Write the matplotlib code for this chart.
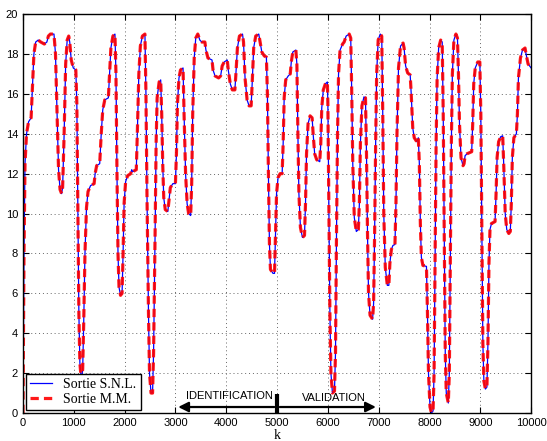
import numpy as np
import matplotlib.pyplot as plt

# points (k, sortie)
k = [0, 20, 40, 70, 110, 160, 190, 215, 250, 300, 350, 420, 470, 500, 540, 610,
     640, 670, 700, 730, 760, 780, 810, 840, 870, 900, 920, 950, 990, 1040,
     1060, 1080, 1100, 1120, 1150, 1175, 1195, 1220, 1250, 1280, 1330, 1400,
     1420, 1450, 1510, 1540, 1570, 1610, 1680, 1700, 1730, 1770, 1810,
     1830, 1850, 1870, 1890, 1920, 1950, 1970, 1990, 2020, 2060, 2120, 2140,
     2160, 2230, 2250, 2280, 2310, 2350, 2400, 2420, 2440, 2470, 2490, 2520,
     2550, 2570, 2600, 2620, 2640, 2680, 2710, 2730, 2750, 2770, 2800, 2850,
     2870, 2900, 2950, 3000, 3020, 3040, 3070, 3100, 3150, 3170, 3200, 3230,
     3260, 3300, 3320, 3340, 3370, 3400, 3440, 3480, 3520, 3580, 3600, 3640,
     3720, 3740, 3780, 3850, 3890, 3920, 3960, 4020, 4040, 4080, 4120, 4170,
     4190, 4220, 4260, 4320, 4340, 4370, 4410, 4450, 4490, 4510, 4540, 4580,
     4640, 4660, 4700, 4750, 4790, 4810, 4830, 4850, 4870, 4920, 4950, 4970,
     4990, 5020, 5060, 5100, 5120, 5140, 5170, 5220, 5260, 5280, 5310, 5370,
     5390, 5410, 5430, 5460, 5500, 5540, 5560, 5580, 5610, 5650, 5690, 5710,
     5740, 5780, 5840, 5860, 5880, 5910, 5950, 5990, 6000, 6020, 6040, 6060,
     6090, 6130, 6150, 6170, 6190, 6210, 6240, 6290, 6320, 6360, 6420, 6450,
     6470, 6490, 6520, 6560, 6600, 6620, 6640, 6670, 6710, 6740, 6760, 6780,
     6800, 6830, 6880, 6900, 6920, 6940, 6960, 6990, 7030, 7060, 7080, 7100,
     7130, 7170, 7200, 7220, 7250, 7280, 7320, 7340, 7360, 7390, 7430, 7480,
     7500, 7530, 7570, 7620, 7640, 7670, 7700, 7750, 7780, 7800, 7820, 7840,
     7870, 7940, 7960, 7980, 8010, 8040, 8070, 8090, 8110, 8130, 8150, 8180,
     8220, 8250, 8270, 8290, 8310, 8330, 8370, 8390, 8410, 8430, 8450, 8480,
     8520, 8550, 8570, 8590, 8620, 8660, 8680, 8700, 8740, 8830, 8850, 8870,
     8900, 8950, 8990, 9010, 9030, 9050, 9070, 9100, 9130, 9150, 9170, 9190,
     9220, 9290, 9310, 9330, 9360, 9400, 9440, 9460, 9490, 9520, 9560, 9590,
     9610, 9630, 9660, 9710, 9730, 9750, 9790, 9830, 9880, 9900, 9940, 10000]

y_snl = [0.0, 8.0, 12.5, 14.0, 14.6, 14.8, 16.5, 18.0, 18.6, 18.7, 18.6, 18.5, 18.6, 18.9, 19.0, 19.0,
         18.0, 15.0, 12.2, 11.2, 11.0, 11.3, 14.0, 17.5, 18.7, 18.9, 18.6, 17.7, 17.3, 17.2,
         15.5, 10.0, 5.0, 2.5, 1.6, 2.2, 4.5, 8.0, 10.3, 11.1, 11.4, 11.5,
         12.0, 12.4, 12.5, 14.0, 15.2, 15.7, 15.8, 16.8, 18.3, 18.9, 19.0,
         17.0, 12.0, 8.0, 6.3, 5.9, 6.0, 8.0, 10.5, 11.6, 11.9, 12.0, 12.2,
         12.1, 12.2, 14.0, 17.0, 18.4, 18.9, 19.0, 16.0, 11.0, 5.0, 2.0, 1.0,
         1.0, 3.0, 9.0, 13.5, 15.8, 16.6, 16.7, 15.0, 12.5, 10.8, 10.2, 10.1,
         10.6, 11.3, 11.5, 11.5, 13.0, 15.5, 16.8, 17.2, 17.3, 15.0, 12.0, 10.5,
         10.0, 9.9, 11.5, 15.0, 17.8, 18.8, 19.0, 18.7, 18.6, 18.6, 18.2, 17.8,
         17.7, 17.2, 16.9, 16.8, 16.9, 17.4, 17.6, 17.7, 17.2, 16.5, 16.2, 16.2,
         17.0, 18.3, 18.9, 19.0, 18.6, 16.8, 15.7, 15.4, 15.4, 16.5, 18.3, 18.9,
         19.0, 18.7, 18.1, 17.9, 17.85, 16.0, 12.0, 8.5, 7.2, 7.0, 7.0, 9.0,
         11.0, 11.8, 12.0, 12.0, 13.5, 15.8, 16.7, 16.9, 17.0, 17.6, 18.1, 18.2,
         17.5, 14.0, 11.0, 9.3, 8.8, 8.9, 10.5, 13.0, 14.5, 14.9, 14.8, 14.0,
         13.0, 12.7, 12.6, 13.5, 15.3, 16.2, 16.5, 16.6, 15.5, 10.0, 5.0, 2.0,
         1.0, 1.1, 3.0, 9.0, 14.0, 17.0, 18.2, 18.5, 18.6, 18.9, 19.0, 18.8,
         16.0, 12.5, 9.8, 9.1, 9.2, 10.5, 13.5, 15.4, 15.85, 15.8, 13.0, 9.0,
         6.0, 4.9, 4.7, 5.5, 9.0, 13.5, 17.0, 18.7, 19.0, 18.9, 15.0, 10.0,
         7.3, 6.4, 6.4, 7.5, 8.2, 8.4, 8.45, 10.5, 14.0, 17.3, 18.4, 18.55,
         18.3, 17.4, 17.05, 16.95, 16.0, 14.3, 13.8, 13.6, 13.8, 12.5, 9.5, 7.8,
         7.4, 7.35, 5.0, 2.0, 0.3, 0.0, 0.1, 2.0, 8.0, 13.5, 16.8, 18.3,
         18.7, 18.6, 15.0, 9.0, 3.0, 1.0, 0.5, 2.0, 8.0, 13.5, 17.0, 18.7,
         19.0, 18.8, 17.0, 14.5, 12.8, 12.4, 12.5, 12.9, 13.0, 13.1, 14.5, 16.5,
         17.3, 17.6, 17.6, 15.0, 9.0, 3.5, 1.6, 1.2, 1.3, 3.5, 7.5, 9.2,
         9.5, 9.6, 11.0, 12.8, 13.6, 13.85, 13.9, 12.5, 10.0, 9.2, 9.0, 9.1,
         10.5, 12.8, 13.8, 14.0, 15.0, 16.8, 17.8, 18.2, 18.3, 18.0, 17.5, 17.3]

# the model output is visually the same as the plant output
y_mm = list(y_snl)

x_ticks = np.arange(0, 10001, 1000)
y_ticks = np.arange(0, 21, 2)

fig = plt.figure(figsize=(5.47, 4.41), dpi=100)
ax = fig.add_axes([0.042, 0.0635, 0.929, 0.9045])

ax.plot(k, y_snl, color="blue", lw=0.9, label="Sortie S.N.L.")
ax.plot(k, y_mm, color="red", lw=2.3, ls=(0, (2.6, 1.6)), alpha=0.9, label="Sortie M.M.")

ax.set_xlim(0, 10000)
ax.set_ylim(0, 20)
ax.set_xticks(x_ticks)
ax.set_yticks(y_ticks)
ax.grid(True, ls=(0, (1, 3)), color="0.4", lw=0.7)
ax.tick_params(direction="in", top=True, right=True, labelsize=8, length=4)
for lab in ax.get_xticklabels() + ax.get_yticklabels():
    lab.set_fontfamily("Liberation Sans")
for sp in ax.spines.values():
    sp.set_linewidth(1.0)
ax.set_xlabel("k", fontsize=10, fontname="Liberation Serif", labelpad=1)

# zones identification / validation
ax.annotate("", xy=(3000, 0.3), xytext=(5000, 0.3),
            arrowprops=dict(arrowstyle="-|>", color="black", lw=1.6, mutation_scale=15))
ax.annotate("", xy=(7000, 0.3), xytext=(5000, 0.3),
            arrowprops=dict(arrowstyle="-|>", color="black", lw=1.6, mutation_scale=15))
ax.plot([5000, 5000], [0, 0.95], color="black", lw=3, solid_capstyle="butt")
ax.text(4060, 0.85, "IDENTIFICATION", ha="center", va="center", fontsize=8, fontname="Liberation Sans")
ax.text(6110, 0.75, "VALIDATION", ha="center", va="center", fontsize=8, fontname="Liberation Sans")

leg = ax.legend(loc="lower left", prop={"family": "Liberation Serif", "size": 10},
                fancybox=False, edgecolor="black", framealpha=1, handlelength=1.6,
                borderaxespad=0.2, borderpad=0.3, labelspacing=0.15)
leg.get_frame().set_linewidth(1.0)

fig.savefig("out.png", dpi=100)
